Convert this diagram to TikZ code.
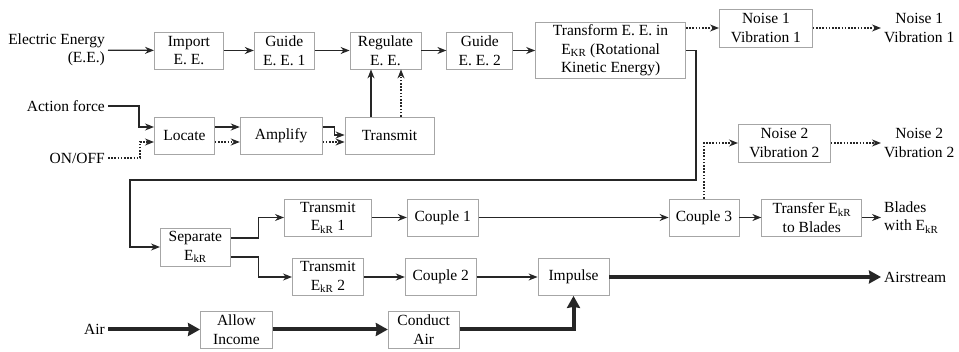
\documentclass[tikz,border=0pt]{standalone}
\usepackage{fontspec}
\setmainfont{Liberation Serif}
\usetikzlibrary{arrows.meta,positioning}

\begin{document}
\begin{tikzpicture}[
    x=1pt, y=-1pt,
    font=\fontsize{15.5}{18.5}\selectfont,
    box/.style={draw=gray!70, line width=0.8pt, minimum height=37pt, align=center, inner xsep=2pt, inner ysep=1pt},
    lbl/.style={inner sep=3pt, align=center},
    arrow/.style={-{Stealth[length=9pt,width=7pt]}, line width=1.3pt, draw=black!85},
    dotarrow/.style={arrow, dash pattern=on 1.6pt off 1.6pt},
    flow/.style={-{Stealth[length=12pt,width=13pt,inset=1pt]}, line width=4pt, draw=black!85}
]
\useasboundingbox (0,0) rectangle (959,352);

% electric energy line
\node[lbl, align=right, anchor=east] (ee) at (108,50) {Electric Energy\\(E.E.)};
\node[box, minimum width=69pt, anchor=west] (import) at (154,50.5) {Import\\E. E.};
\node[box, minimum width=60pt, right=30pt of import] (guide1) {Guide\\E. E. 1};
\node[box, minimum width=71pt, right=35pt of guide1] (regulate) {Regulate\\E. E.};
\node[box, minimum width=66pt, right=25pt of regulate] (guide2) {Guide\\E. E. 2};
\node[box, minimum width=150pt, minimum height=56pt, right=22pt of guide2] (transform) {Transform E. E. in\\E\textsubscript{KR} (Rotational\\Kinetic Energy)};
\node[box, minimum width=93pt, minimum height=38pt, anchor=west] (noise1) at (719,28) {Noise 1\\Vibration 1};
\node[lbl, anchor=west] (nv1) at (881,28) {Noise 1\\Vibration 1};

% control line
\node[lbl, anchor=east] (force) at (108,106) {Action force};
\node[lbl, anchor=east] (onoff) at (108,158) {ON/OFF};
\node[box, minimum width=60pt, anchor=west] (locate) at (154,135.5) {Locate};
\node[box, minimum width=82pt, right=25pt of locate] (amplify) {Amplify};
\node[box, minimum width=89pt, right=22pt of amplify] (transmit) {Transmit};

% rotational energy line
\coordinate (turn) at (130,180);
\node[box, minimum width=70pt, minimum height=38pt, anchor=west] (separate) at (160,247) {Separate\\E\textsubscript{kR}};
\node[box, minimum width=87pt, anchor=west] (transmit1) at (284,217.5) {Transmit\\E\textsubscript{kR} 1};
\node[box, minimum width=71pt, right=35pt of transmit1] (couple1) {Couple 1};
\node[box, minimum width=70pt, right=190pt of couple1] (couple3) {Couple 3};
\node[box, minimum width=100pt, right=22pt of couple3] (transfer) {Transfer E\textsubscript{kR}\\to Blades};
\node[lbl, align=left, anchor=west] (blades) at (881,217.5) {Blades\\with E\textsubscript{kR}};
\node[box, minimum width=92pt, minimum height=38pt, anchor=west] (noise2) at (738,143) {Noise 2\\Vibration 2};
\node[lbl, anchor=west] (nv2) at (881,143) {Noise 2\\Vibration 2};
\node[box, minimum width=71pt, anchor=west] (transmit2) at (292,277) {Transmit\\E\textsubscript{kR} 2};
\node[box, minimum width=71pt, right=41pt of transmit2] (couple2) {Couple 2};
\node[box, minimum width=71pt, right=61pt of couple2] (impulse) {Impulse};
\node[lbl, anchor=west] (airstream) at (881,277) {Airstream};

% air line
\node[lbl, anchor=east] (air) at (108,329.5) {Air};
\node[box, minimum width=72pt, anchor=west] (allow) at (200,329.5) {Allow\\Income};
\node[box, minimum width=71pt, right=115pt of allow] (conduct) {Conduct\\Air};

\draw[arrow] (ee) -- (import);
\draw[arrow] (import) -- (guide1);
\draw[arrow] (guide1) -- (regulate);
\draw[arrow] (regulate) -- (guide2);
\draw[arrow] (guide2) -- (transform);
\draw[dotarrow] (transform.east |- noise1.west) -- (noise1.west);
\draw[dotarrow] (noise1) -- (nv1);

\draw[arrow] (force.east) -- ++(31,0) |- ([yshift=8.5pt]locate.west);
\draw[dotarrow] (onoff.east) -- ++(32,0) |- ([yshift=-6.5pt]locate.west);
\draw[arrow] ([yshift=8.5pt]locate.east) -- ([yshift=8.5pt]amplify.west);
\draw[dotarrow] ([yshift=-6.5pt]locate.east) -- ([yshift=-6.5pt]amplify.west);
\draw[arrow] ([yshift=8.5pt]amplify.east) -- ++(12,0) |- ([yshift=0.5pt]transmit.west);
\draw[dotarrow] ([yshift=-6.5pt]amplify.east) -- ([yshift=-6.5pt]transmit.west);
\draw[arrow] ([xshift=-18.5pt]transmit.north) -- ([xshift=-18.5pt]transmit.north |- regulate.south);
\draw[dotarrow] ([xshift=11.5pt]transmit.north) -- ([xshift=11.5pt]transmit.north |- regulate.south);

\draw[arrow] (transform.east) -- ++(10,0) |- (turn) |- (separate.west);
\draw[arrow] ([yshift=9pt]separate.east) -- ++(28,0) |- (transmit1.west);
\draw[arrow] ([yshift=-10pt]separate.east) -- ++(28,0) |- (transmit2.west);
\draw[arrow] (transmit1) -- (couple1);
\draw[arrow] (couple1) -- (couple3);
\draw[arrow] (couple3) -- (transfer);
\draw[arrow] (transfer) -- (blades);
\draw[dotarrow] (couple3.north) |- (noise2.west);
\draw[dotarrow] (noise2) -- (nv2);
\draw[arrow] (transmit2) -- (couple2);
\draw[arrow] (couple2) -- (impulse);
\draw[flow] (impulse) -- (airstream);

\draw[flow] (air) -- (allow);
\draw[flow] (allow) -- (conduct);
\draw[flow] (conduct.east) -| (impulse.south);
\end{tikzpicture}
\end{document}
